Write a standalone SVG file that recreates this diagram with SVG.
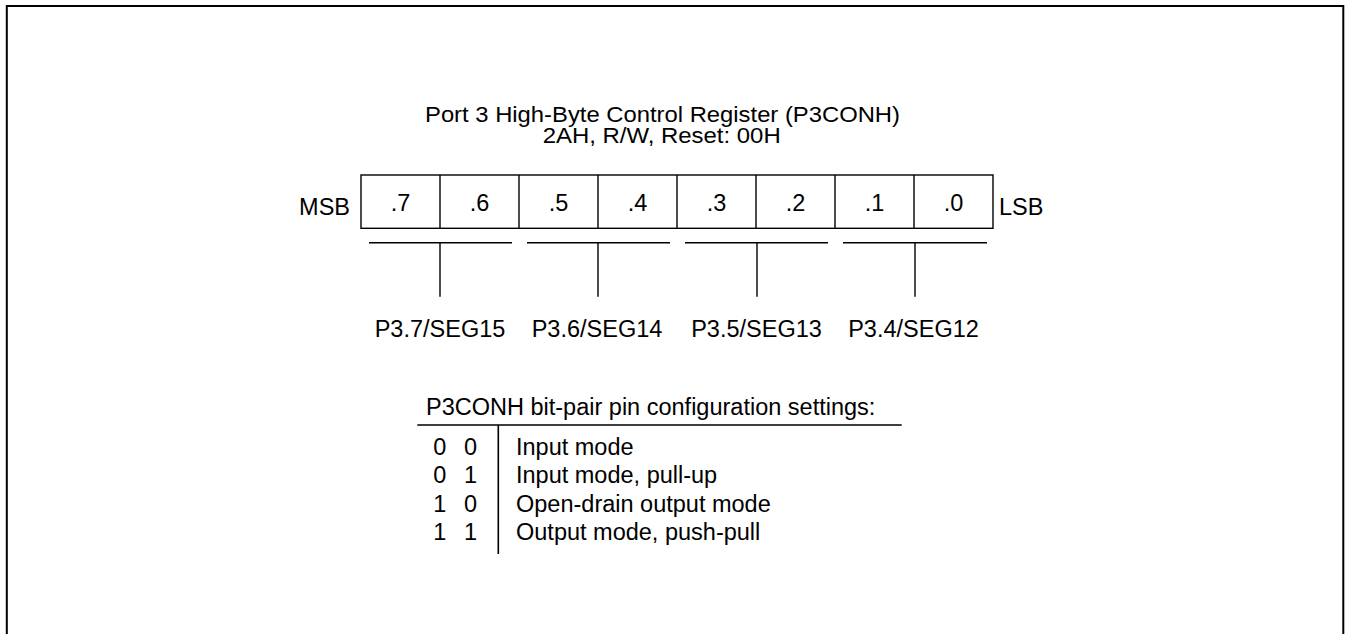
<svg xmlns="http://www.w3.org/2000/svg" width="1348" height="634" viewBox="0 0 1348 634">
<style>
text{font-family:"Liberation Sans",Arial,sans-serif;font-size:23.5px;fill:#000}
.c{text-anchor:middle}
.t{font-size:22px}
.ln{stroke:#000;stroke-width:1.4;fill:none}
.tb{stroke:#000;stroke-width:1.6;fill:none}
</style>
<rect x="0" y="0" width="1348" height="634" fill="#fff"/>
<path d="M6.8,634 V6 H1343.3 V634" fill="none" stroke="#000" stroke-width="2"/>
<g id="title">
<text class="t" x="425" y="121.5" textLength="475" lengthAdjust="spacingAndGlyphs">Port 3 High-Byte Control Register (P3CONH)</text>
<text class="t" x="542.7" y="143" textLength="238" lengthAdjust="spacingAndGlyphs">2AH, R/W, Reset: 00H</text>
</g>
<g id="register">
<text x="350" y="215" text-anchor="end">MSB</text>
<rect class="ln" x="361" y="175" width="632" height="53.3"/>
<path class="ln" d="M440,175V228.3M519,175V228.3M598,175V228.3M677,175V228.3M756,175V228.3M835,175V228.3M914,175V228.3"/>
<text class="c" x="400.5" y="211">.7</text>
<text class="c" x="479.5" y="211">.6</text>
<text class="c" x="558.5" y="211">.5</text>
<text class="c" x="637.5" y="211">.4</text>
<text class="c" x="716.5" y="211">.3</text>
<text class="c" x="795.5" y="211">.2</text>
<text class="c" x="874.5" y="211">.1</text>
<text class="c" x="953.5" y="211">.0</text>
<text x="999" y="215">LSB</text>
</g>
<g id="connectors">
<path class="ln" d="M369,242.7H512M527,242.7H670M685,242.7H828M843,242.7H987"/>
<path class="ln" d="M440,242.7V296.7M598,242.7V296.7M757,242.7V296.7M915,242.7V296.7"/>
</g>
<g id="pin7"><text class="c" x="440" y="337">P3.7/SEG15</text></g>
<g id="pin6"><text class="c" x="597" y="337">P3.6/SEG14</text></g>
<g id="pin5"><text class="c" x="756.5" y="337">P3.5/SEG13</text></g>
<g id="pin4"><text class="c" x="913.5" y="337">P3.4/SEG12</text></g>
<g id="settings">
<text x="426" y="415">P3CONH bit-pair pin configuration settings:</text>
<path class="tb" d="M417.3,425H901.7M498.3,425V554"/>
<text class="c"><tspan x="443" y="455">0</tspan> <tspan x="470.5" y="455">0</tspan></text>
<text class="c"><tspan x="443" y="483.3">0</tspan> <tspan x="470.5" y="483.3">1</tspan></text>
<text class="c"><tspan x="443" y="511.7">1</tspan> <tspan x="470.5" y="511.7">0</tspan></text>
<text class="c"><tspan x="443" y="540">1</tspan> <tspan x="470.5" y="540">1</tspan></text>
<text x="516" y="455">Input mode</text>
<text x="516" y="483.3">Input mode, pull-up</text>
<text x="516" y="511.7">Open-drain output mode</text>
<text x="516" y="540">Output mode, push-pull</text>
</g>
</svg>
